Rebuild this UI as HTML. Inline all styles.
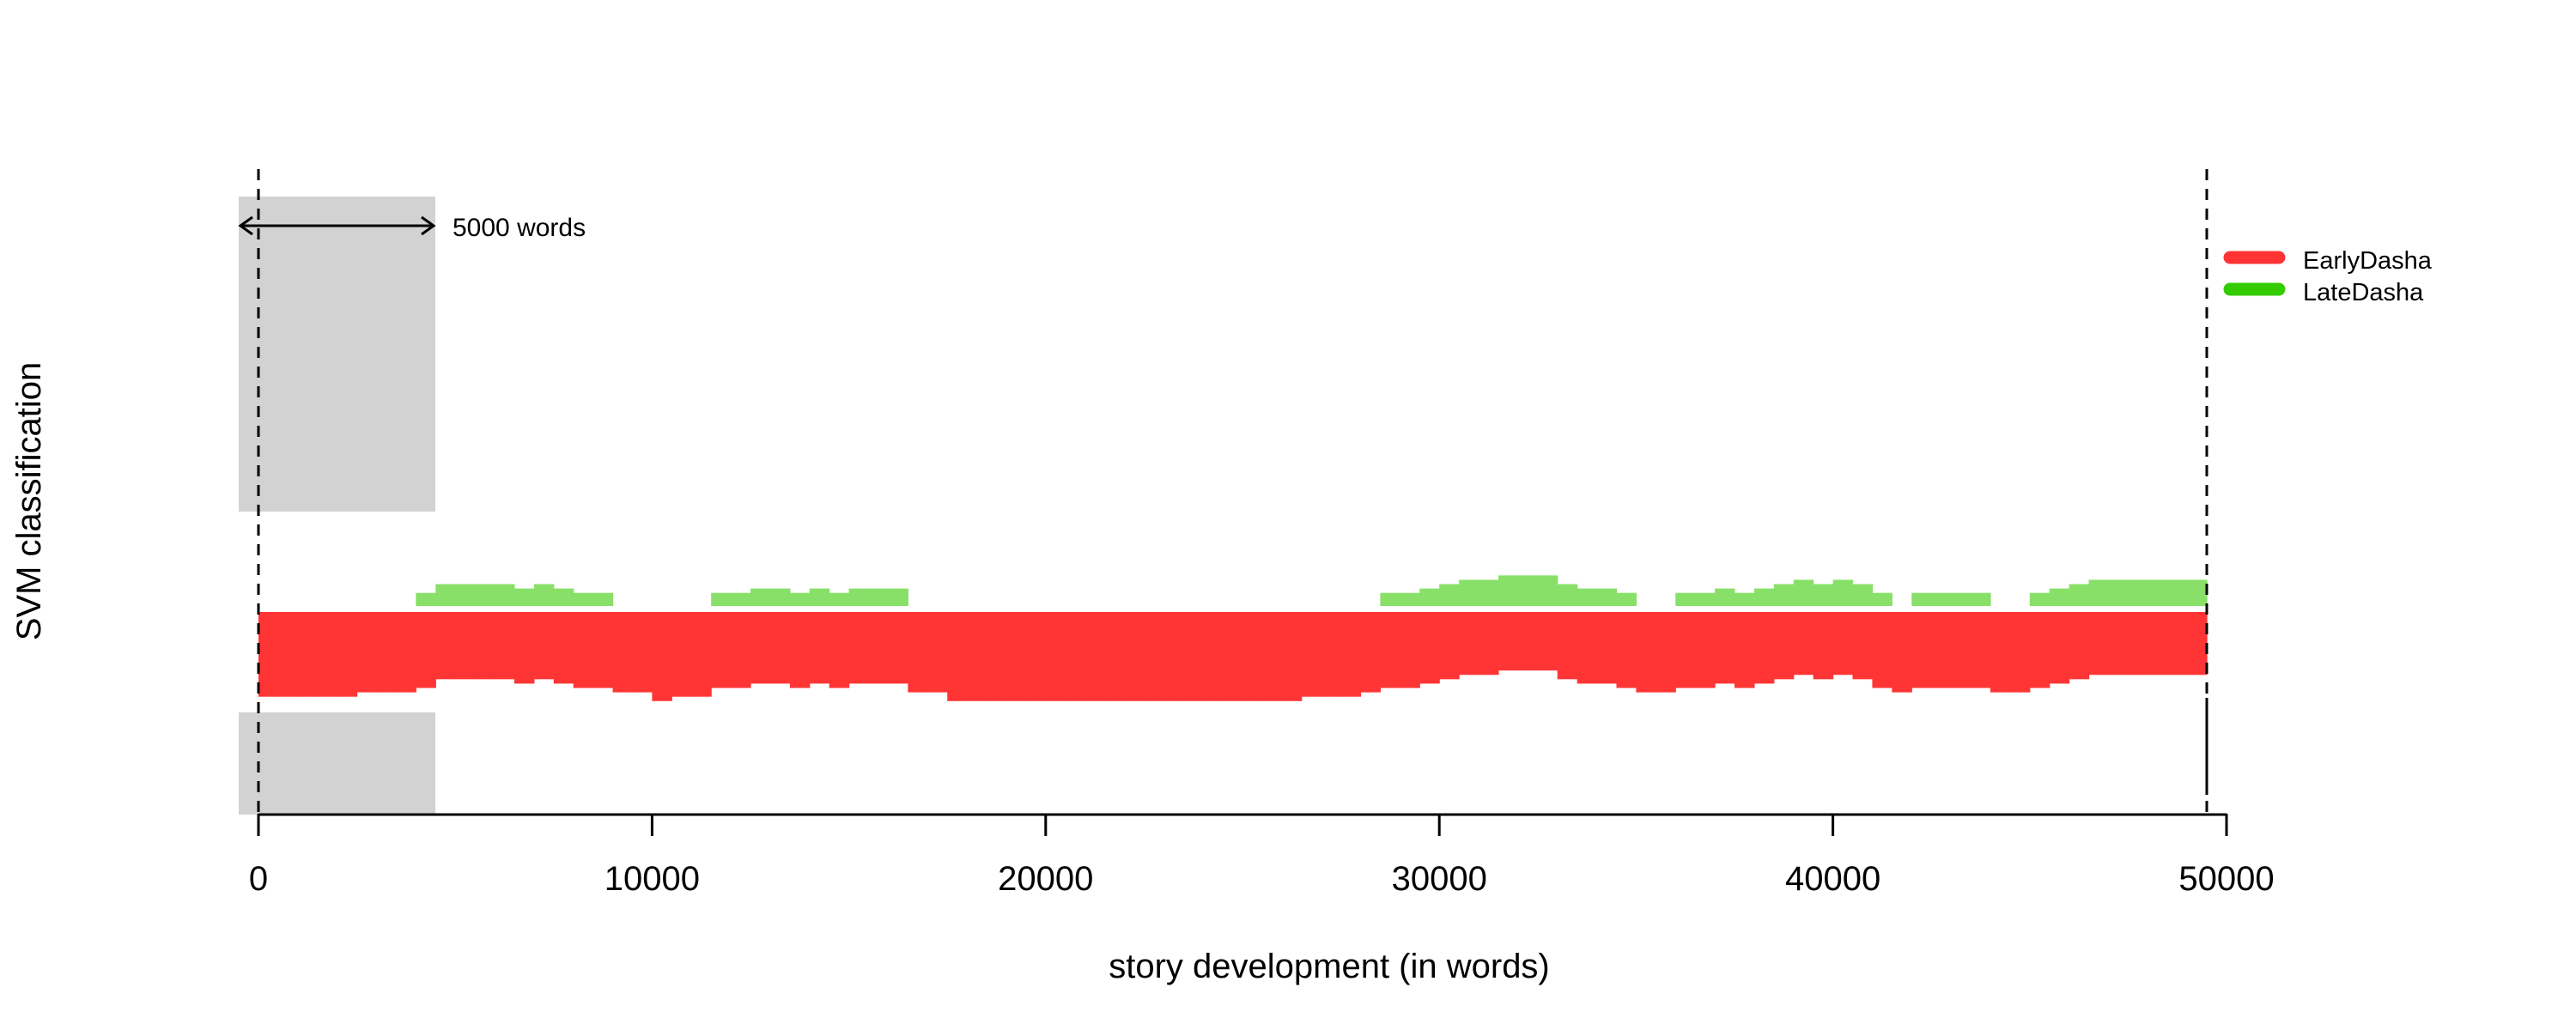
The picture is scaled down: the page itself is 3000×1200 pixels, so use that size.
<!DOCTYPE html>
<html><head><meta charset="utf-8"><style>
html,body{margin:0;padding:0;background:#fff;}
svg{display:block;font-family:"Liberation Sans",Arial,sans-serif;}
</style></head><body>
<svg id="chart" width="3000" height="1200" viewBox="0 0 3000 1200" xmlns="http://www.w3.org/2000/svg">
<g id="bg">
  <rect x="278" y="229" width="229" height="367" fill="#d2d2d2"/>
  <rect x="278" y="830" width="229" height="119" fill="#d2d2d2"/>
</g>
<g id="marks"></g>
<g>
  <line x1="280" y1="263" x2="505" y2="263" stroke="#000" stroke-width="3"/>
  <polyline points="294,253 280,263 294,273" fill="none" stroke="#000" stroke-width="3"/>
  <polyline points="491,253 505,263 491,273" fill="none" stroke="#000" stroke-width="3"/>
  <text x="527" y="275" font-size="30">5000 words</text>
</g>
<g>
  <line x1="301" y1="197" x2="301" y2="949" stroke="#000" stroke-width="3" stroke-dasharray="13,10"/>
  <line x1="2570" y1="197" x2="2570" y2="949" stroke="#000" stroke-width="3" stroke-dasharray="13,10"/>
  <line x1="2570" y1="813" x2="2570" y2="926" stroke="#000" stroke-width="3"/>
</g>
<g id="axis"></g>
<text x="1548" y="1139" font-size="40" text-anchor="middle">story development (in words)</text>
<text x="0" y="0" font-size="40" text-anchor="middle" transform="translate(47,584) rotate(-90)">SVM classification</text>
<g>
  <line x1="2597" y1="300" x2="2654" y2="300" stroke="#ff3333" stroke-width="15" stroke-linecap="round"/>
  <text x="2682" y="313" font-size="29">EarlyDasha</text>
  <line x1="2597" y1="337" x2="2654" y2="337" stroke="#33cc00" stroke-width="15" stroke-linecap="round"/>
  <text x="2682" y="350" font-size="29">LateDasha</text>
</g>
</svg>
<script>
const windowStep = 500;
const earlyDashaVals = [19,19,19,19,19,18,18,18,17,15,15,15,15,16,15,16,17,17,18,18,20,19,19,17,17,16,16,17,16,17,16,16,16,18,18,
20,20,20,20,20,20,20,20,20,20,20,20,20,20,20,20,20,20,19,19,19,18,17,17,16,15,14,14,13,13,13,15,16,16,17,18,18,17,17,16,17,16,15,14,15,14,15,17,18,17,17,17,17,18,18,17,16,15,14,14,14,14,14,14];
const lateDashaVals = [0,0,0,0,0,0,0,0,3,5,5,5,5,4,5,4,3,3,0,0,0,0,0,3,3,4,4,3,4,3,4,4,4,0,0,
0,0,0,0,0,0,0,0,0,0,0,0,0,0,0,0,0,0,0,0,0,0,3,3,4,5,6,6,7,7,7,5,4,4,3,0,0,3,3,4,3,4,5,6,5,6,5,3,0,3,3,3,3,0,0,3,4,5,6,6,6,6,6,6];
const xTicks = [0,10000,20000,30000,40000,50000];
const xTickLabels = ["0","10000","20000","30000","40000","50000"];

const NS = "http://www.w3.org/2000/svg";
function xPx(w){ return 301 + w * (2593 - 301) / 50000; }
const unitPx = 5.09;
function redBottom(v){ return 715 + v * unitPx; }
function greenTop(v){ return 706 - v * unitPx; }

const marks = document.getElementById('marks');
earlyDashaVals.forEach((v, i) => {
  const x0 = xPx(i * windowStep), x1 = xPx((i + 1) * windowStep);
  const r = document.createElementNS(NS, 'rect');
  r.setAttribute('x', x0); r.setAttribute('width', x1 - x0 + 0.6);
  r.setAttribute('y', 713); r.setAttribute('height', redBottom(v) - 713);
  r.setAttribute('fill', '#ff3535');
  
  
  marks.appendChild(r);
});
lateDashaVals.forEach((v, i) => {
  if (!v) return;
  const x0 = xPx(i * windowStep), x1 = xPx((i + 1) * windowStep);
  const r = document.createElementNS(NS, 'rect');
  r.setAttribute('x', x0); r.setAttribute('width', x1 - x0 + 0.6);
  r.setAttribute('y', greenTop(v)); r.setAttribute('height', 706 - greenTop(v));
  r.setAttribute('fill', '#88e068');
  
  
  marks.appendChild(r);
});

const axis = document.getElementById('axis');
const al = document.createElementNS(NS, 'line');
al.setAttribute('x1', xPx(0)); al.setAttribute('x2', xPx(50000));
al.setAttribute('y1', 949); al.setAttribute('y2', 949);
al.setAttribute('stroke', '#000'); al.setAttribute('stroke-width', 3);


axis.appendChild(al);
xTicks.forEach((t, i) => {
  const tl = document.createElementNS(NS, 'line');
  tl.setAttribute('x1', xPx(t)); tl.setAttribute('x2', xPx(t));
  tl.setAttribute('y1', 948); tl.setAttribute('y2', 974);
  tl.setAttribute('stroke', '#000'); tl.setAttribute('stroke-width', 3);
  
  
  axis.appendChild(tl);
  const tx = document.createElementNS(NS, 'text');
  tx.setAttribute('x', xPx(t)); tx.setAttribute('y', 1037);
  tx.setAttribute('font-size', 40); tx.setAttribute('text-anchor', 'middle');
  tx.textContent = xTickLabels[i];
  
  
  axis.appendChild(tx);
});
</script>
</body></html>
